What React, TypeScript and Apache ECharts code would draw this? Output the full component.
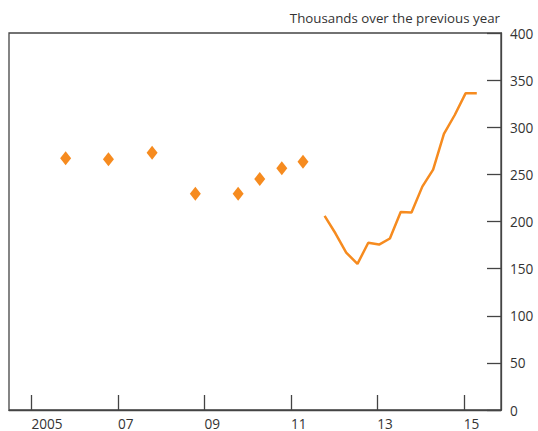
import React, { useEffect, useRef } from "react";
import * as echarts from "echarts";

const diamondYears = [2005.79, 2006.78, 2007.79, 2008.79, 2009.78, 2010.28, 2010.79, 2011.28];
const diamondValues = [267, 266, 273, 229.5, 229.5, 245, 256.5, 263.5];

const lineYears = [2011.78, 2012.03, 2012.28, 2012.54, 2012.79, 2013.04, 2013.29, 2013.54, 2013.79, 2014.04, 2014.29, 2014.54, 2014.79, 2015.04, 2015.3];
const lineValues = [206, 187.5, 167, 155, 177.5, 175.5, 182, 210, 209.5, 237, 255, 293, 313, 336, 336];

const xTickYears = [2005, 2007, 2009, 2011, 2013, 2015];
const xTickLabels = ["2005", "07", "09", "11", "13", "15"];
const yTitle = "Thousands over the previous year";

const ORANGE = "#F68B1F";
const AXIS = "#444";
const TEXT = "#333";
const FONT = "'Open Sans', 'Noto Sans', sans-serif";

export default function App() {
  const ref = useRef<HTMLDivElement>(null);
  useEffect(() => {
    document.body.style.margin = "0";
    if (!ref.current) return;
    const chart = echarts.init(ref.current, undefined, { renderer: "svg" });
    chart.setOption({
      animation: false,
      textStyle: { fontFamily: FONT },
      grid: {
        left: 9,
        right: 37,
        top: 33,
        bottom: 21,
        show: true,
        borderColor: AXIS,
        borderWidth: 1.3,
        backgroundColor: "transparent",
      },
      graphic: [
        {
          type: "text",
          right: 38,
          top: 11,
          style: { text: yTitle, fill: TEXT, font: `13.3px ${FONT}`, textAlign: "right" },
        },
      ],
      xAxis: {
        type: "value",
        min: 2004.48,
        max: 2015.86,
        splitLine: { show: false },
        axisLine: { show: true, lineStyle: { color: AXIS, width: 1.3 } },
        axisTick: {
          show: true,
          inside: true,
          length: 15,
          lineStyle: { color: AXIS, width: 1.3 },
          customValues: xTickYears,
        },
        axisLabel: {
          show: true,
          customValues: xTickYears,
          align: "left",
          margin: 6,
          lineHeight: 14,
          color: TEXT,
          fontSize: 13.6,
          fontFamily: FONT,
          formatter: (v: number) => {
            const i = xTickYears.indexOf(Math.round(v));
            return i >= 0 ? xTickLabels[i] : "";
          },
        },
      },
      yAxis: {
        type: "value",
        position: "right",
        min: 0,
        max: 400,
        interval: 50,
        splitLine: { show: false },
        axisLine: { show: true, lineStyle: { color: AXIS, width: 1.3 } },
        axisTick: { show: true, inside: true, length: 14, lineStyle: { color: AXIS, width: 1.3 } },
        axisLabel: { margin: 9, color: TEXT, fontSize: 13.6, fontFamily: FONT },
      },
      series: [
        {
          type: "scatter",
          symbol: "diamond",
          symbolSize: [11, 14],
          itemStyle: { color: ORANGE, opacity: 1 },
          data: diamondYears.map((y, i) => [y, diamondValues[i]]),
        },
        {
          type: "line",
          showSymbol: false,
          symbol: "none",
          lineStyle: { color: ORANGE, width: 2.5 },
          data: lineYears.map((y, i) => [y, lineValues[i]]),
        },
      ],
    });
    return () => chart.dispose();
  }, []);
  return <div ref={ref} style={{ width: 538, height: 431 }} />;
}
